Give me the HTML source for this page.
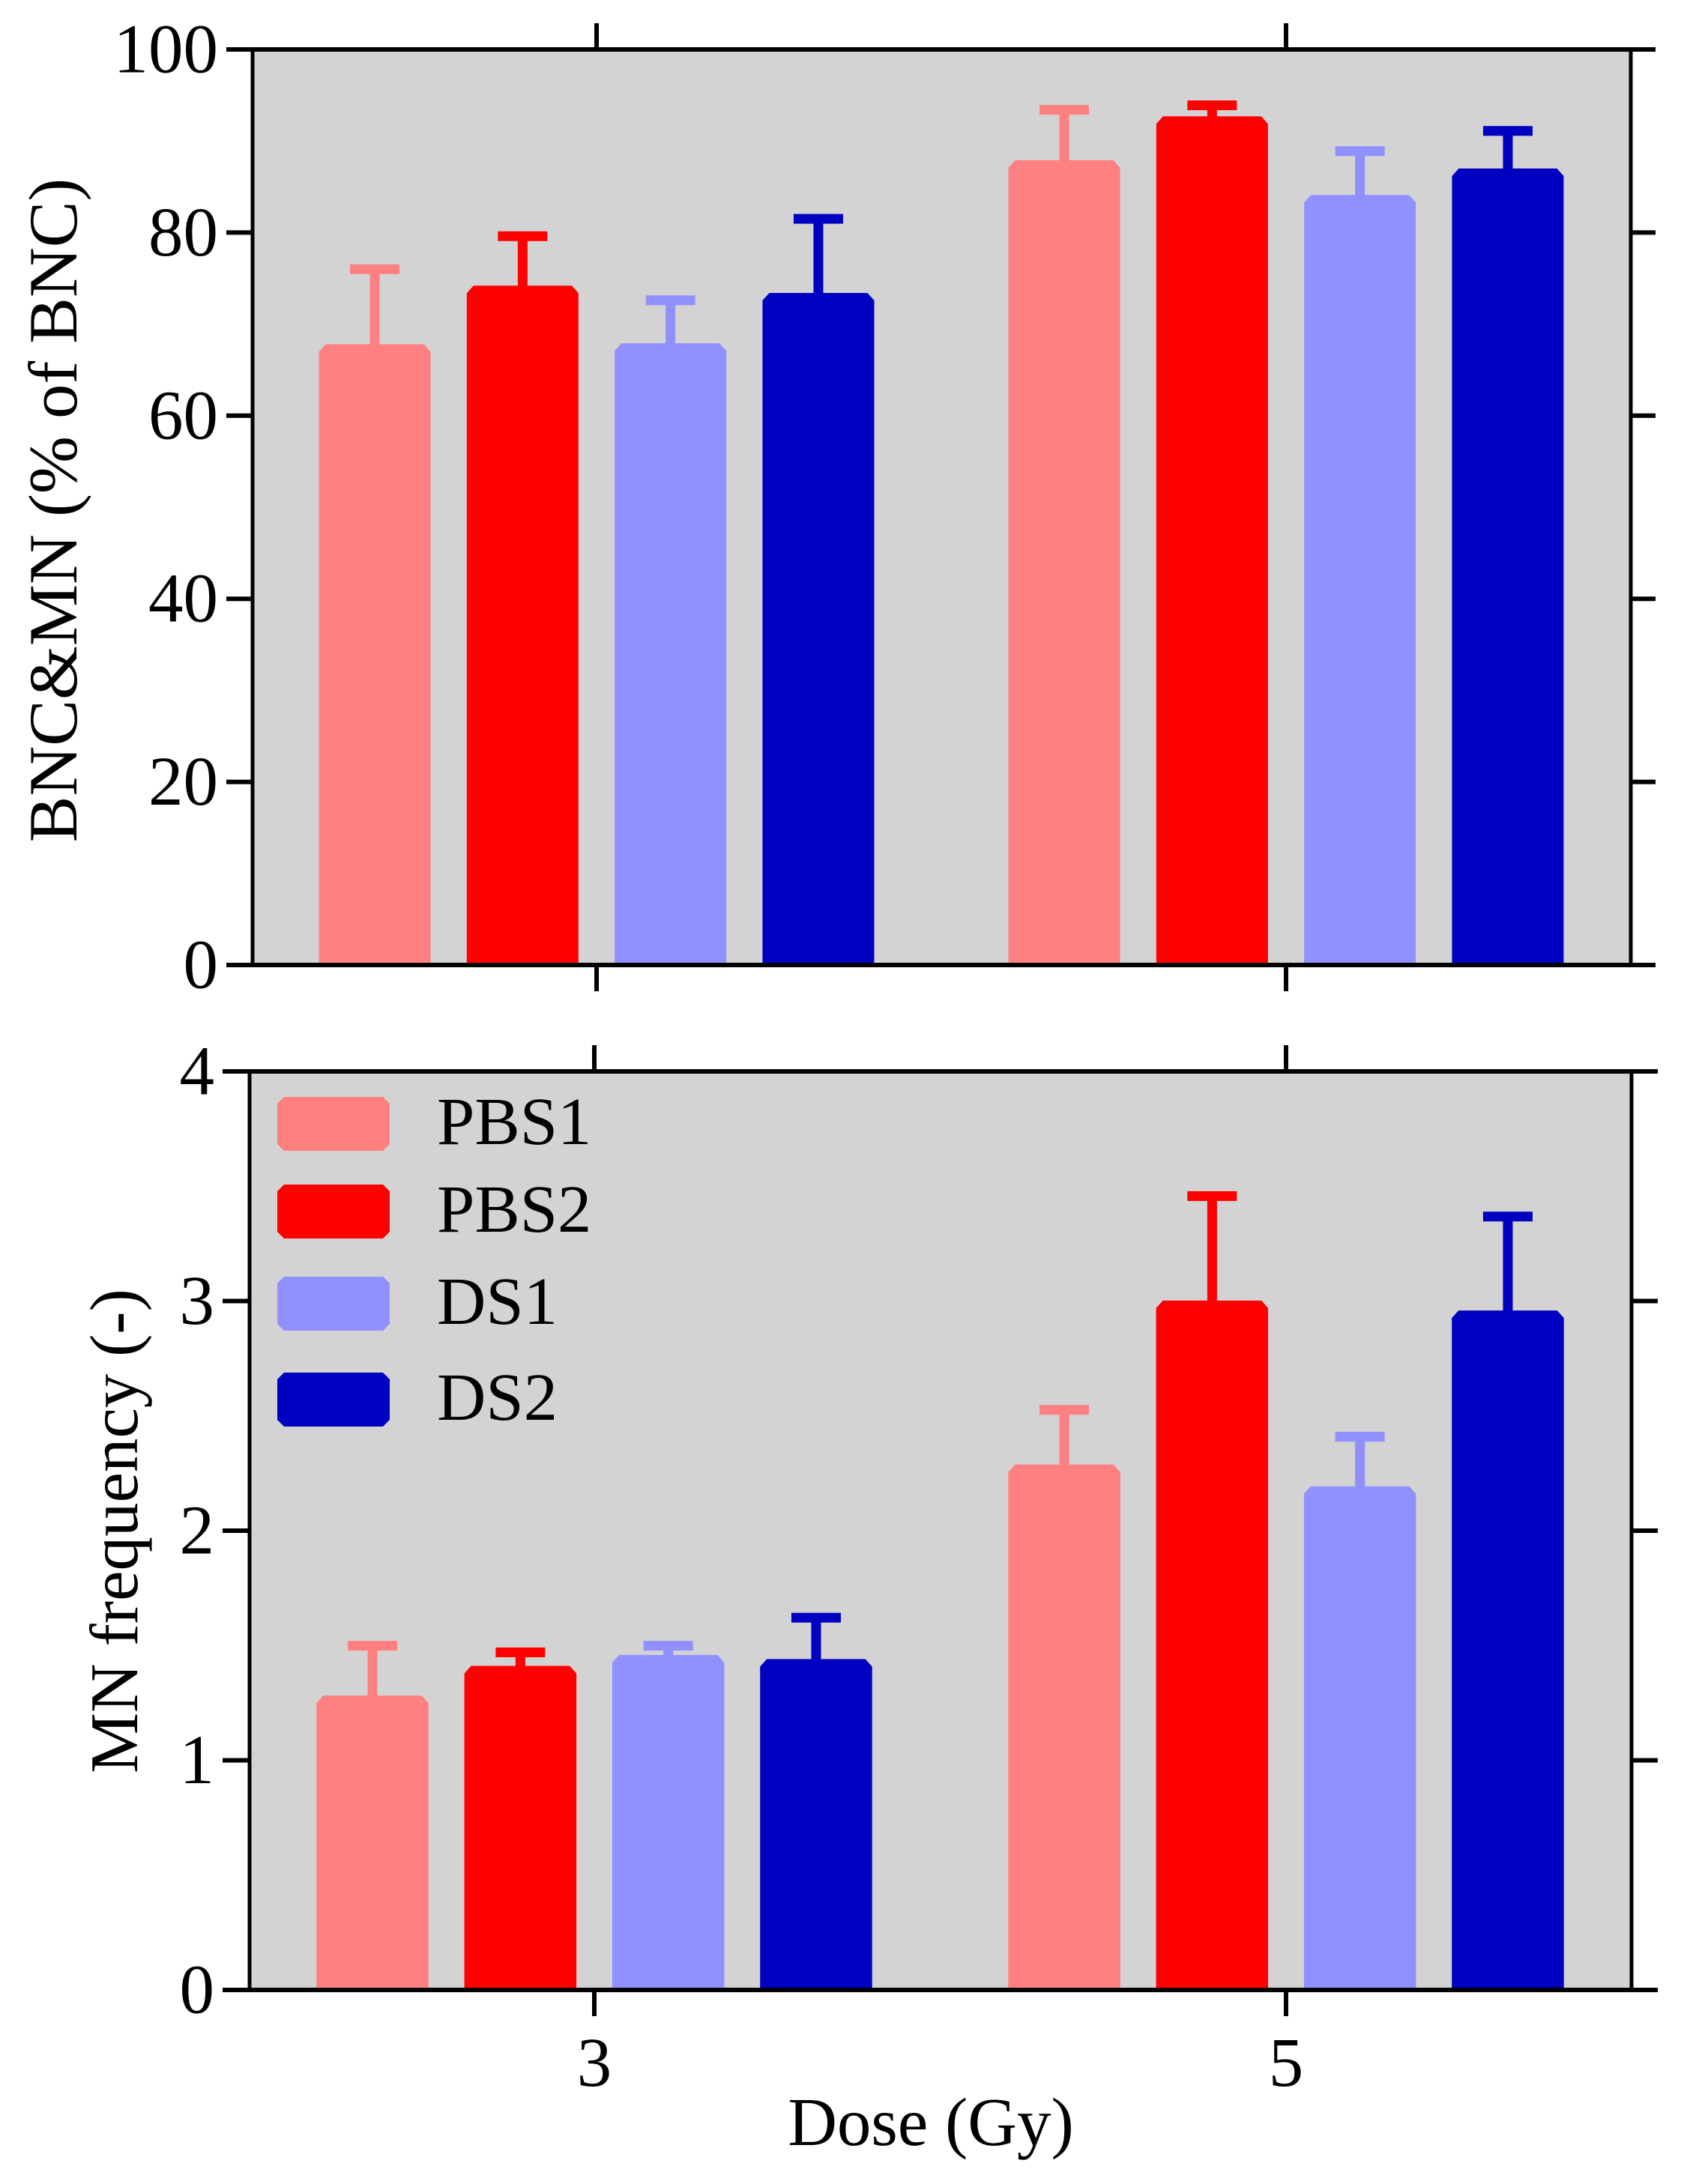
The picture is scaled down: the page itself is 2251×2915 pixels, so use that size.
<!DOCTYPE html>
<html lang="en">
<head>
<meta charset="utf-8">
<title>BNC&amp;MN and MN frequency by dose</title>
<style>
  html, body { margin: 0; padding: 0; background: #ffffff; }
  svg { display: block; }
  text { font-family: "Liberation Serif", "Times New Roman", serif; fill: #000000; }
</style>
</head>
<body>
<svg id="chart" xmlns="http://www.w3.org/2000/svg" width="2251" height="2915" viewBox="0 0 2251 2915">
  <rect x="0" y="0" width="2251" height="2915" fill="#ffffff"/>
  <g id="panel-top"></g>
  <g id="panel-bottom"></g>
  <text transform="translate(102,681) rotate(-90)" text-anchor="middle" font-size="92.5">BNC&amp;MN (% of BNC)</text>
  <text transform="translate(183,2043.5) rotate(-90)" text-anchor="middle" font-size="91">MN frequency (-)</text>
  <text x="1242" y="2863" text-anchor="middle" font-size="91">Dose (Gy)</text>
  <g id="legend"></g>
</svg>
<script>
// Chart data
const doseLabels = ['3', '5'];
const seriesNames = ['PBS1', 'PBS2', 'DS1', 'DS2'];

const bncPBS1 = [67.8, 87.9];
const bncPBS2 = [74.2, 92.7];
const bncDS1 = [67.9, 84.1];
const bncDS2 = [73.4, 87.0];
const bncErrPBS1 = [8.2, 5.5];
const bncErrPBS2 = [5.4, 1.2];
const bncErrDS1 = [4.7, 4.8];
const bncErrDS2 = [8.1, 4.1];
const bncTicks = [0, 20, 40, 60, 80, 100];

const mnPBS1 = [1.282, 2.288];
const mnPBS2 = [1.411, 3.002];
const mnDS1 = [1.459, 2.193];
const mnDS2 = [1.441, 2.959];
const mnErrPBS1 = [0.217, 0.238];
const mnErrPBS2 = [0.059, 0.455];
const mnErrDS1 = [0.040, 0.216];
const mnErrDS2 = [0.180, 0.409];
const mnTicks = [0, 1, 2, 3, 4];

const SVG_NS = 'http://www.w3.org/2000/svg';
const seriesColors = ['#FF8080', '#FF0000', '#9090FF', '#0000C0'];

function shape(parent, tag, name) {
  const el = document.createElementNS(SVG_NS, tag);
  
  
  parent.appendChild(el);
  return el;
}

function drawLine(parent, name, x1, y1, x2, y2, w) {
  const l = shape(parent, 'line', name);
  l.setAttribute('x1', x1);
  l.setAttribute('y1', y1);
  l.setAttribute('x2', x2);
  l.setAttribute('y2', y2);
  l.setAttribute('stroke', '#000000');
  l.setAttribute('stroke-width', w);
  return l;
}

function drawPanel(root, cfg) {
  const yOf = v => cfg.bottom - (v / cfg.max) * (cfg.bottom - cfg.top);
  const groupX = i => cfg.x0 + i * (cfg.x1 - cfg.x0);
  const barX = (i, s) => groupX(i) + (s - 1.5) * cfg.pitch;

  const bg = shape(root, 'rect', cfg.id + '-plot-background');
  bg.setAttribute('x', cfg.left);
  bg.setAttribute('y', cfg.top);
  bg.setAttribute('width', cfg.right - cfg.left);
  bg.setAttribute('height', cfg.bottom - cfg.top);
  bg.setAttribute('fill', '#D3D3D3');

  cfg.values.forEach((vals, s) => {
    vals.forEach((v, i) => {
      const cx = barX(i, s);
      const top = yOf(v);
      const w = cfg.barWidth / 2;
      const capY = yOf(v + cfg.errors[s][i]);
      const color = seriesColors[s];
      const tag = cfg.id + '-' + seriesNames[s].toLowerCase() + '-dose-' + doseLabels[i];

      const stem = shape(root, 'rect', tag + '-error-stem');
      stem.setAttribute('x', cx - 6.5);
      stem.setAttribute('y', capY);
      stem.setAttribute('width', 13);
      stem.setAttribute('height', Math.max(top - capY + 4, 0));
      stem.setAttribute('fill', color);

      const cap = shape(root, 'rect', tag + '-error-cap');
      cap.setAttribute('x', cx - 33);
      cap.setAttribute('y', capY - 6.5);
      cap.setAttribute('width', 66);
      cap.setAttribute('height', 13);
      cap.setAttribute('fill', color);

      const bar = shape(root, 'path', tag + '-bar');
      bar.setAttribute('d',
        'M' + (cx - w) + ' ' + cfg.bottom +
        'V' + (top + 10) +
        'L' + (cx - w + 9) + ' ' + top +
        'H' + (cx + w - 9) +
        'L' + (cx + w) + ' ' + (top + 10) +
        'V' + cfg.bottom + 'Z');
      bar.setAttribute('fill', color);
    });
  });

  // Frame
  drawLine(root, cfg.id + '-left-axis', cfg.left, cfg.top, cfg.left, cfg.bottom, 5);
  drawLine(root, cfg.id + '-right-axis', cfg.right, cfg.top, cfg.right, cfg.bottom, 5);
  drawLine(root, cfg.id + '-top-axis', cfg.tickLeft, cfg.top, cfg.tickRight, cfg.top, 6);
  drawLine(root, cfg.id + '-bottom-axis', cfg.tickLeft, cfg.bottom, cfg.tickRight, cfg.bottom, 6);

  // Y ticks and labels
  cfg.ticks.forEach(t => {
    const y = yOf(t);
    if (t !== 0 && t !== cfg.max) {
      drawLine(root, cfg.id + '-y-tick-left-' + t, cfg.tickLeft, y, cfg.left, y, 6);
      drawLine(root, cfg.id + '-y-tick-right-' + t, cfg.right, y, cfg.tickRight, y, 6);
    }
    const label = shape(root, 'text', cfg.id + '-y-tick-label-' + t);
    label.setAttribute('x', cfg.labelX);
    label.setAttribute('y', y + 30.5);
    label.setAttribute('text-anchor', 'end');
    label.setAttribute('font-size', '93');
    label.textContent = String(t);
  });

  // X ticks
  doseLabels.forEach((d, i) => {
    const x = groupX(i) + cfg.tickShift;
    drawLine(root, cfg.id + '-x-tick-top-' + d, x, cfg.top - 35, x, cfg.top, 6);
    drawLine(root, cfg.id + '-x-tick-bottom-' + d, x, cfg.bottom, x, cfg.bottom + 35, 6);
    if (cfg.showXLabels) {
      const label = shape(root, 'text', 'x-tick-label-' + d);
      label.setAttribute('x', x);
      label.setAttribute('y', cfg.bottom + 128);
      label.setAttribute('text-anchor', 'middle');
      label.setAttribute('font-size', '93');
      label.textContent = d;
    }
  });
}

drawPanel(document.getElementById('panel-top'), {
  id: 'top-panel',
  left: 337, right: 2176, top: 66, bottom: 1288,
  tickLeft: 302, tickRight: 2209, labelX: 291,
  x0: 796, x1: 1716, tickShift: 0, pitch: 197.3, barWidth: 149,
  max: 100, ticks: bncTicks,
  values: [bncPBS1, bncPBS2, bncDS1, bncDS2],
  errors: [bncErrPBS1, bncErrPBS2, bncErrDS1, bncErrDS2],
  showXLabels: false
});

drawPanel(document.getElementById('panel-bottom'), {
  id: 'bottom-panel',
  left: 333, right: 2177, top: 1430, bottom: 2656,
  tickLeft: 297, tickRight: 2212, labelX: 286,
  x0: 793, x1: 1716, tickShift: 0, pitch: 197.3, barWidth: 149.5,
  max: 4, ticks: mnTicks,
  values: [mnPBS1, mnPBS2, mnDS1, mnDS2],
  errors: [mnErrPBS1, mnErrPBS2, mnErrDS1, mnErrDS2],
  showXLabels: true
});

// Legend
const legendRoot = document.getElementById('legend');
const legendSwatchTops = [1464, 1581, 1704, 1832];
const legendBaselines = [1527, 1644, 1767, 1895];
seriesNames.forEach((n, s) => {
  const x = 370, w = 150, h = 72, c = 9;
  const y = legendSwatchTops[s];
  const sw = shape(legendRoot, 'path', 'legend-swatch-' + n.toLowerCase());
  sw.setAttribute('d',
    'M' + (x + c) + ' ' + y + 'H' + (x + w - c) + 'L' + (x + w) + ' ' + (y + c) +
    'V' + (y + h - c) + 'L' + (x + w - c) + ' ' + (y + h) + 'H' + (x + c) +
    'L' + x + ' ' + (y + h - c) + 'V' + (y + c) + 'Z');
  sw.setAttribute('fill', seriesColors[s]);
  const t = shape(legendRoot, 'text', 'legend-label-' + n.toLowerCase());
  t.setAttribute('x', 583);
  t.setAttribute('y', legendBaselines[s]);
  t.setAttribute('font-size', '90.5');
  t.textContent = n;
});
</script>
</body>
</html>
